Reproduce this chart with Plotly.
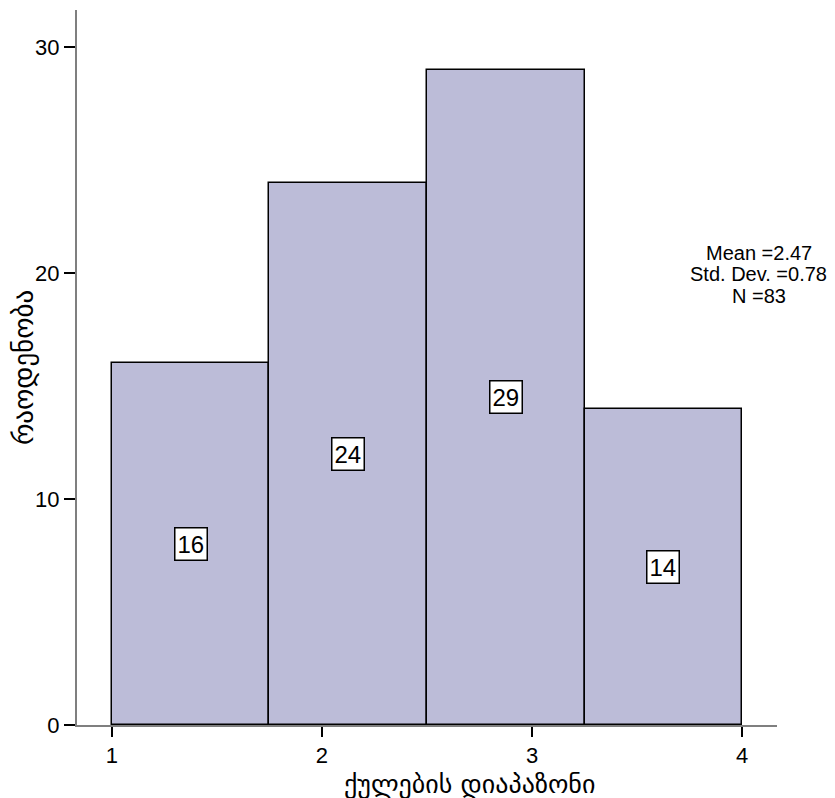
import plotly.graph_objects as go

bin_edges = [1.0, 1.75, 2.5, 3.25, 4.0]
counts = [16, 24, 29, 14]
x_ticks = [1, 2, 3, 4]
y_ticks = [0, 10, 20, 30]
stats_lines = ["Mean =2.47", "Std. Dev. =0.78", "N =83"]
x_title = "ქულების დიაპაზონი"
y_title = "რაოდენობა"

centers = [(bin_edges[i] + bin_edges[i + 1]) / 2 for i in range(len(counts))]
widths = [bin_edges[i + 1] - bin_edges[i] for i in range(len(counts))]

fig = go.Figure()
fig.add_trace(go.Bar(
    x=centers, y=counts, width=widths,
    marker=dict(color="#BCBCD8", line=dict(color="black", width=1.5)),
    hoverinfo="skip", showlegend=False,
))

annotations = []
for c, v in zip(centers, counts):
    annotations.append(dict(
        x=c, y=v / 2, xref="x", yref="y", text=str(v), showarrow=False,
        font=dict(family="Liberation Sans, Arial", size=24, color="black"),
        bgcolor="white", bordercolor="black", borderwidth=1.5, borderpad=2,
    ))
# stats block, one line per annotation for tight line spacing
stat_y = [20.9, 19.95, 19.0]
for line, yy in zip(stats_lines, stat_y):
    annotations.append(dict(
        x=4.08, y=yy, xref="x", yref="y", text=line,
        showarrow=False, xanchor="center", yanchor="middle",
        font=dict(family="Liberation Sans, Arial", size=20, color="black"),
    ))
# x-axis title (offset to the right as in the original)
annotations.append(dict(
    x=0.56, y=-0.082, xref="paper", yref="paper", text=x_title,
    showarrow=False, xanchor="center", yanchor="middle",
    font=dict(family="DejaVu Sans", size=26, color="black"),
))

fig.update_layout(
    width=835, height=798,
    margin=dict(l=67, r=66, t=2, b=81),
    paper_bgcolor="white", plot_bgcolor="white",
    bargap=0,
    annotations=annotations,
    xaxis=dict(
        range=[0.834, 4.166], tickvals=x_ticks, ticktext=[str(t) for t in x_ticks],
        showgrid=False, zeroline=False, showline=True, linecolor="#7f7f7f", linewidth=2,
        ticks="outside", ticklen=10, tickwidth=2, tickcolor="black",
        tickfont=dict(family="Liberation Sans, Arial", size=22, color="black"),
    ),
    yaxis=dict(
        range=[0, 31.64], tickvals=y_ticks, ticktext=[str(t) for t in y_ticks],
        showgrid=False, zeroline=False, showline=True, linecolor="#7f7f7f", linewidth=2,
        ticks="outside", ticklen=11, tickwidth=2, tickcolor="black",
        tickfont=dict(family="Liberation Sans, Arial", size=22, color="black"),
        title=dict(text=y_title, font=dict(family="DejaVu Sans", size=27, color="black"), standoff=6),
    ),
)

fig.write_html("out.html")
